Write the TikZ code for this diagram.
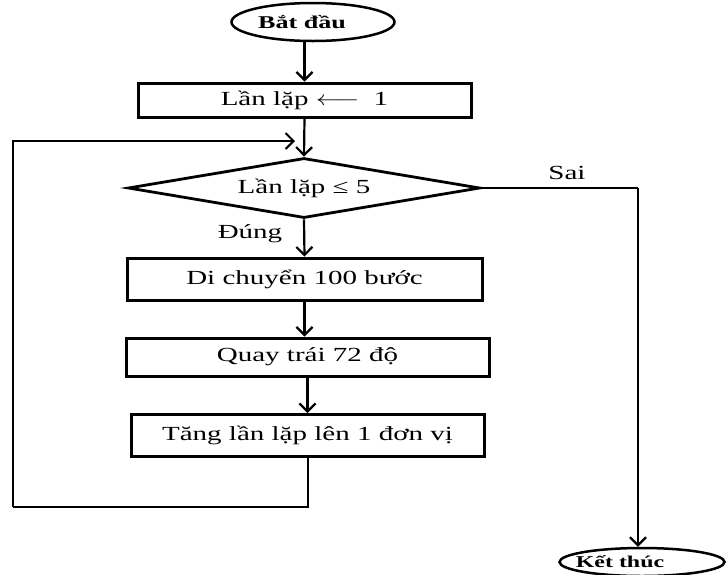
\documentclass[tikz,border=0pt]{standalone}
\usepackage{fontspec}
\usepackage{graphicx}
\setmainfont{Liberation Serif}[FakeStretch=1.45]
\usetikzlibrary{arrows.meta,shapes.geometric,calc}
\begin{document}
\begin{tikzpicture}[x=1pt,y=-1pt,
  every node/.style={font=\fontsize{20}{24}\selectfont},
  procbox/.style={draw,line width=3pt,minimum height=38pt,inner sep=0pt},
  term/.style={draw,ellipse,line width=2.5pt,inner sep=0pt},
  decide/.style={draw,diamond,line width=2.8pt,inner sep=0pt,aspect=5.9},
  arr/.style={line width=2.2pt,-{Straight Barb[length=8pt,width=16pt,line width=2.2pt]}},
  loopline/.style={line width=2pt}]
\useasboundingbox (0,0) rectangle (726,574);
\fill[white] (0,0) rectangle (726,574);

\node[term,minimum width=163pt,minimum height=38pt] (start) at (313,22) {};
\node[font=\fontsize{18}{22}\selectfont\bfseries] (starttxt) at (302,22) {Bắt đầu};

\node[procbox,minimum width=333pt,minimum height=34pt] (b1) at (304.5,100) {Lần lặp \scalebox{1.3}[1]{$\longleftarrow$}\ \ 1};

\node[decide,minimum width=352pt,minimum height=60pt] (d) at (304,188) {Lần lặp ≤ 5};

\node[procbox,minimum width=355pt,minimum height=42pt] (b2) at (304.5,279) {Di chuyển 100 bước};
\node[procbox,minimum width=363pt,minimum height=38pt] (b3) at (307.5,357) {Quay trái 72 độ};
\node[procbox,minimum width=353pt,minimum height=42pt] (b4) at (307.5,435.5) {Tăng lần lặp lên 1 đơn vị};

\node[term,minimum width=165pt,minimum height=28pt] (end) at (642,562) {};
\node[font=\fontsize{16.5}{20}\selectfont\bfseries] (endtxt) at (620,562) {Kết thúc};

\node (dung) at (250,234) {Đúng};
\node (sai) at (567,173) {Sai};

\coordinate (j) at (304,141);
\coordinate (lb) at (13,507);
\coordinate (rt) at (638,188);

\draw[arr] (start.south -| b1.north) -- (b1.north);
\draw[arr] (b1.south) -- (d.north);
\draw[arr] (d.south) -- (b2.north);
\draw[arr] (b2.south) -- (b2.south |- b3.north);
\draw[arr] (b3.south) -- (b3.south |- b4.north);
\draw[loopline] (b4.south) |- (lb);
\draw[loopline,-{Straight Barb[length=8pt,width=16pt,line width=2pt]},shorten >=9pt] (lb) |- (j);
\draw[loopline] (d.east) -- (rt);
\draw[arr] (rt) -- (rt |- end.north);
\end{tikzpicture}
\end{document}
